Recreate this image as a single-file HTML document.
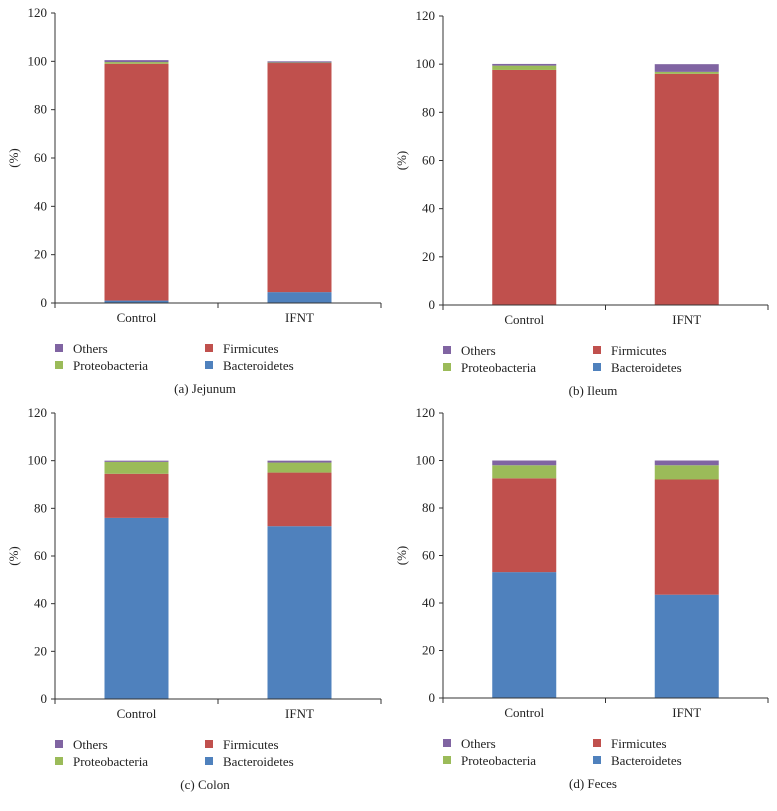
<!DOCTYPE html>
<html><head><meta charset="utf-8">
<style>
html,body{margin:0;padding:0;background:#fff;}
svg{display:block;font-family:"Liberation Serif",serif;}
</style></head>
<body>
<svg id="chart" width="777" height="811" viewBox="0 0 777 811"></svg>
<script>
const categories = ["Control", "IFNT"];
const seriesNames = ["Bacteroidetes", "Firmicutes", "Proteobacteria", "Others"];
const yTicks = [0, 20, 40, 60, 80, 100, 120];
const jejunumBacteroidetes = [1, 4.5];
const jejunumFirmicutes = [98, 94.8];
const jejunumProteobacteria = [0.7, 0.2];
const jejunumOthers = [0.8, 0.5];
const ileumBacteroidetes = [0.1, 0.2];
const ileumFirmicutes = [97.5, 95.8];
const ileumProteobacteria = [1.8, 0.8];
const ileumOthers = [0.7, 3.2];
const colonBacteroidetes = [76, 72.5];
const colonFirmicutes = [18.5, 22.5];
const colonProteobacteria = [5, 4.2];
const colonOthers = [0.5, 0.8];
const fecesBacteroidetes = [53, 43.5];
const fecesFirmicutes = [39.5, 48.5];
const fecesProteobacteria = [5.5, 6];
const fecesOthers = [2, 2];

const colors = {Bacteroidetes:"#4F81BD", Firmicutes:"#C0504D", Proteobacteria:"#9BBB59", Others:"#8064A2"};
const NS = "http://www.w3.org/2000/svg";
const svg = document.getElementById("chart");
function mk(tag, attrs, parent){const e=document.createElementNS(NS,tag);for(const k in attrs)e.setAttribute(k,attrs[k]);(parent||svg).appendChild(e);return e;}

const panels = [
 {key:"jejunum", caption:"(a)  Jejunum", x0:55, x1:381, yb:303, yt:13, data:[jejunumBacteroidetes,jejunumFirmicutes,jejunumProteobacteria,jejunumOthers]},
 {key:"ileum", caption:"(b)  Ileum", x0:443, x1:768, yb:305, yt:16, data:[ileumBacteroidetes,ileumFirmicutes,ileumProteobacteria,ileumOthers]},
 {key:"colon", caption:"(c)  Colon", x0:55, x1:381, yb:699, yt:413, data:[colonBacteroidetes,colonFirmicutes,colonProteobacteria,colonOthers]},
 {key:"feces", caption:"(d)  Feces", x0:443, x1:768, yb:698, yt:413, data:[fecesBacteroidetes,fecesFirmicutes,fecesProteobacteria,fecesOthers]}
];

panels.forEach(p=>{
  const g = mk("g",{});
  
  
  const y = v => p.yb - (v/120)*(p.yb-p.yt);
  const bw = (p.x1-p.x0)/2;
  const barW = 64;
  const xc = i => p.x0 + bw*(i+0.5);
  categories.forEach((c,i)=>{
    let acc = 0;
    p.data.forEach((arr,s)=>{
      const v = arr[i];
      const r = mk("rect",{x:xc(i)-barW/2, y:y(acc+v), width:barW, height:Math.max(0,y(acc)-y(acc+v)), fill:colors[seriesNames[s]]}, g);
      
      
      acc += v;
    });
  });
  const ya = mk("line",{x1:p.x0,y1:p.yt,x2:p.x0,y2:p.yb,stroke:"#333","stroke-width":1},g);
  
  
  const xa = mk("line",{x1:p.x0,y1:p.yb,x2:p.x1,y2:p.yb,stroke:"#333","stroke-width":1},g);
  
  
  yTicks.forEach(t=>{
    mk("line",{x1:p.x0-4,y1:y(t),x2:p.x0,y2:y(t),stroke:"#333"},g);
    const tx = mk("text",{x:p.x0-8,y:y(t)+4,"text-anchor":"end","font-size":"13",fill:"#222"},g);
    tx.textContent = t;
    
    
  });
  [0,1,2].forEach(k=>mk("line",{x1:p.x0+bw*k,y1:p.yb,x2:p.x0+bw*k,y2:p.yb+5,stroke:"#333"},g));
  categories.forEach((c,i)=>{
    const tx = mk("text",{x:xc(i),y:p.yb+19,"text-anchor":"middle","font-size":"13",fill:"#222"},g);
    tx.textContent = c;
    
    
  });
  const yl = mk("text",{x:0,y:0,transform:`translate(${p.x0-37},${(p.yb+p.yt)/2}) rotate(-90)`,"text-anchor":"middle","font-size":"13",fill:"#222"},g);
  yl.textContent = "(%)";
  
  
  const leg = [["Others",0,0],["Proteobacteria",0,1],["Firmicutes",1,0],["Bacteroidetes",1,1]];
  leg.forEach(([n,col,row])=>{
    const lx = p.x0 + col*150;
    const ly = p.yb + 50 + row*17;
    const sq = mk("rect",{x:lx,y:ly-9,width:8,height:8,fill:colors[n]},g);
    
    
    const tx = mk("text",{x:lx+18,y:ly,"font-size":"13",fill:"#222"},g);
    tx.textContent = n;
    
    
  });
  const cap = mk("text",{x:p.x0+150,y:p.yb+90,"text-anchor":"middle","font-size":"13",fill:"#222"},g);
  cap.textContent = p.caption;
  
  
});
</script>
</body></html>
